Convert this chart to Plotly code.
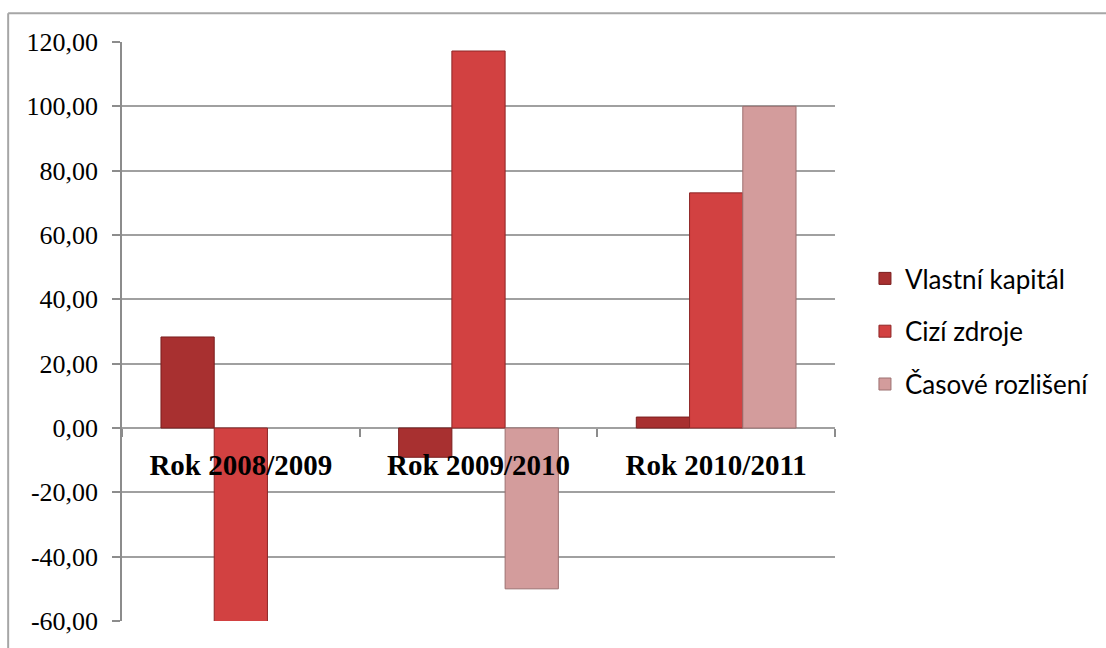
import plotly.graph_objects as go

categories = ["Rok 2008/2009", "Rok 2009/2010", "Rok 2010/2011"]
series_names = ["Vlastní kapitál", "Cizí zdroje", "Časové rozlišení"]
vlastni_kapital = [28.3, -9.1, 3.4]
cizi_zdroje = [-61.0, 117.2, 73.1]
casove_rozliseni = [None, -50.0, 100.0]
y_tickvals = [-60, -40, -20, 0, 20, 40, 60, 80, 100, 120]
y_ticktext = ["-60,00", "-40,00", "-20,00", "0,00", "20,00", "40,00",
              "60,00", "80,00", "100,00", "120,00"]

colors = ["#A83030", "#D24141", "#D39C9C"]
line_colors = ["#7A1E1E", "#8E2626", "#9C7070"]

W, H = 1106, 648
L, R, T, B = 122, 270, 42, 21
ymin, ymax = -60, 120

fig = go.Figure()
for name, vals, c, lc in zip(series_names, [vlastni_kapital, cizi_zdroje, casove_rozliseni], colors, line_colors):
    fig.add_trace(go.Bar(
        x=categories, y=vals, name=name, legendgroup=name,
        marker=dict(color=c, line=dict(color=lc, width=1)),
    ))

zero_pos = (0 - ymin) / (ymax - ymin)
plot_w = W - L - R
plot_h = H - T - B

fig.update_layout(
    width=W, height=H,
    margin=dict(l=L, r=R, t=T, b=B, pad=0),
    paper_bgcolor="white", plot_bgcolor="white",
    barmode="group", bargap=0.328, bargroupgap=0,
    showlegend=True,
    legend=dict(
        x=(866 - L) / plot_w, xanchor="left",
        y=0.5, yanchor="middle",
        font=dict(family="Lato", size=26, color="#000000"),
        tracegroupgap=16, bgcolor="rgba(0,0,0,0)", borderwidth=0,
    ),
    xaxis=dict(
        anchor="free", position=zero_pos,
        showline=False, showgrid=False, zeroline=False,
        ticks="outside", tickson="boundaries", ticklen=8, tickcolor="#8c8c8c", tickwidth=1.5,
        tickfont=dict(family="Liberation Serif", size=29, color="#000000", weight="bold"),
        ticklabelstandoff=17,
        range=[-0.5, 2.5], fixedrange=True,
    ),
    yaxis=dict(
        range=[ymin, ymax], tickvals=y_tickvals, ticktext=y_ticktext,
        showline=True, linecolor="#8c8c8c", linewidth=1.5,
        showgrid=True, gridcolor="#a0a0a0", gridwidth=1.5,
        zeroline=False,
        ticks="outside", ticklen=8, tickcolor="#8c8c8c", tickwidth=1.5,
        tickfont=dict(family="Liberation Serif", size=26, color="#000000"),
        ticklabelstandoff=9,
    ),
)

# chart outer border (left and top edges)
bx = (8 - L) / plot_w
by = (H - B - 13) / plot_h
fig.add_shape(type="line", xref="paper", yref="paper", x0=bx, x1=bx, y0=by, y1=-0.1,
              line=dict(color="#a6a6a6", width=2))
fig.add_shape(type="line", xref="paper", yref="paper", x0=bx, x1=1.5, y0=by, y1=by,
              line=dict(color="#a6a6a6", width=2))

fig.write_html("out.html")
